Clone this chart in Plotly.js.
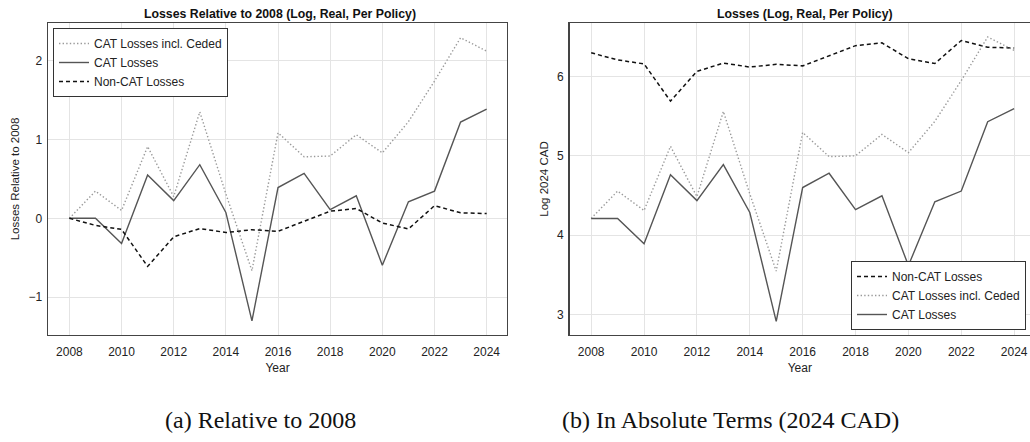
<!DOCTYPE html>
<html>
<head>
<meta charset="utf-8">
<script src="https://cdn.plot.ly/plotly-3.0.1.min.js"></script>
<style>html,body{margin:0;padding:0;background:#fff}#chart{width:1030px;height:442px}</style>
</head>
<body>
<div id="chart"></div>
<script>
const years = [2008,2009,2010,2011,2012,2013,2014,2015,2016,2017,2018,2019,2020,2021,2022,2023,2024];

// Panel (a): relative to 2008
const catRel    = [0, 0, -0.32, 0.55, 0.225, 0.68, 0.075, -1.30, 0.39, 0.57, 0.11, 0.285, -0.595, 0.21, 0.345, 1.22, 1.385];
const cededRel  = [0, 0.345, 0.10, 0.91, 0.275, 1.35, 0.31, -0.665, 1.085, 0.78, 0.79, 1.06, 0.83, 1.225, 1.74, 2.29, 2.12];
const nonCatRel = [0, -0.09, -0.14, -0.61, -0.235, -0.13, -0.18, -0.145, -0.165, -0.04, 0.09, 0.125, -0.06, -0.135, 0.16, 0.07, 0.06];

// Panel (b): absolute log 2024 CAD
const catAbs    = [4.21, 4.21, 3.89, 4.76, 4.435, 4.89, 4.285, 2.91, 4.60, 4.78, 4.32, 4.495, 3.615, 4.42, 4.555, 5.43, 5.595];
const cededAbs  = [4.21, 4.555, 4.31, 5.12, 4.485, 5.56, 4.52, 3.545, 5.295, 4.99, 5.00, 5.27, 5.04, 5.435, 5.95, 6.50, 6.33];
const nonCatAbs = [6.30, 6.21, 6.16, 5.69, 6.065, 6.17, 6.12, 6.155, 6.135, 6.26, 6.39, 6.425, 6.225, 6.165, 6.455, 6.37, 6.36];

const names = {cat: 'CAT Losses', ceded: 'CAT Losses incl. Ceded', noncat: 'Non-CAT Losses'};
const panelTitles = ['Losses Relative to 2008 (Log, Real, Per Policy)', 'Losses (Log, Real, Per Policy)'];
const captions = ['(a) Relative to 2008', '(b) In Absolute Terms (2024 CAD)'];

const FONT = 'Liberation Sans, Arial, Helvetica, sans-serif';
const SERIF = 'Liberation Serif, DejaVu Serif, serif';
const styles = {
  cat:    {color: '#555555', width: 1.4, dash: 'solid'},
  ceded:  {color: '#9a9a9a', width: 1.4, dash: '1.4px,2.2px'},
  noncat: {color: '#111111', width: 1.5, dash: '4px,3px'}
};

function tr(x, y, key, xa, ya, legend) {
  return {x: x, y: y, type: 'scatter', mode: 'lines', name: names[key],
          xaxis: xa, yaxis: ya, legend: legend, line: styles[key], hoverinfo: 'skip'};
}

const data = [
  tr(years, cededRel, 'ceded', 'x', 'y', 'legend'),
  tr(years, catRel, 'cat', 'x', 'y', 'legend'),
  tr(years, nonCatRel, 'noncat', 'x', 'y', 'legend'),
  tr(years, nonCatAbs, 'noncat', 'x2', 'y2', 'legend2'),
  tr(years, cededAbs, 'ceded', 'x2', 'y2', 'legend2'),
  tr(years, catAbs, 'cat', 'x2', 'y2', 'legend2')
];

const W = 1030, H = 442;
const yDom = [1 - 335/H, 1 - 23/H];
const gridc = '#e4e4e4';
const tickFont = {family: FONT, size: 12, color: '#222'};

function xax(domain, range, mirror) {
  return {domain: domain, range: range, tick0: 2008, dtick: 2, showgrid: true, gridcolor: gridc, gridwidth: 1,
          zeroline: false, showline: true, mirror: mirror, linecolor: '#444', linewidth: 1.3, ticks: '',
          tickfont: tickFont, ticklabelstandoff: 5,
          title: {text: 'Year', font: {family: FONT, size: 12, color: '#222'}, standoff: 6},
          automargin: false, fixedrange: true};
}
function yax(domain, range, dtick, anchor, mirror, title) {
  return {domain: domain, range: range, dtick: dtick, anchor: anchor, showgrid: true, gridcolor: gridc, gridwidth: 1,
          zeroline: false, showline: true, mirror: mirror, linecolor: '#444', linewidth: 1.3, ticks: '',
          tickfont: tickFont, ticklabelstandoff: 2,
          title: {text: title, font: {family: FONT, size: 11.5, color: '#222'}, standoff: 6},
          automargin: false, fixedrange: true};
}

const leftDom = [48/W, 507/W];
const rightDom = [569.5/W, 1];

const layout = {
  width: W, height: H,
  margin: {l: 0, r: 0, t: 0, b: 0, autoexpand: false},
  paper_bgcolor: '#fff', plot_bgcolor: '#fff',
  font: {family: FONT, color: '#222'},
  showlegend: true,
  xaxis: Object.assign(xax(leftDom, [2007.18, 2024.78], true), {anchor: 'y'}),
  yaxis: yax(yDom, [-1.48, 2.477], 1, 'x', true, 'Losses Relative to 2008'),
  xaxis2: Object.assign(xax(rightDom, [2007.18, 2024.6], true), {anchor: 'y2'}),
  yaxis2: yax(yDom, [2.739, 6.676], 1, 'x2', false, 'Log 2024 CAD'),
  legend: {x: 53/W, y: 1 - 28/H, xanchor: 'left', yanchor: 'top', bgcolor: '#fff', bordercolor: '#333', borderwidth: 1,
           font: {family: FONT, size: 12, color: '#222'}, tracegroupgap: 0},
  legend2: {x: 851/W, y: 1 - 330/H, xanchor: 'left', yanchor: 'bottom', bgcolor: '#fff', bordercolor: '#333', borderwidth: 1,
           font: {family: FONT, size: 12, color: '#222'}, tracegroupgap: 0},
  annotations: [
    {text: '<b>' + panelTitles[0] + '</b>', xref: 'paper', yref: 'paper', x: 280/W, y: 1 - 14/H, xanchor: 'center', yanchor: 'middle',
     showarrow: false, font: {family: FONT, size: 12.3, color: '#111'}},
    {text: '<b>' + panelTitles[1] + '</b>', xref: 'paper', yref: 'paper', x: 805/W, y: 1 - 14/H, xanchor: 'center', yanchor: 'middle',
     showarrow: false, font: {family: FONT, size: 12.3, color: '#111'}},
    {text: captions[0], xref: 'paper', yref: 'paper', x: 260/W, y: 1 - 420/H, xanchor: 'center', yanchor: 'middle',
     showarrow: false, font: {family: SERIF, size: 24, color: '#111'}},
    {text: captions[1], xref: 'paper', yref: 'paper', x: 730/W, y: 1 - 420/H, xanchor: 'center', yanchor: 'middle',
     showarrow: false, font: {family: SERIF, size: 24, color: '#111'}}
  ]
};

Plotly.newPlot('chart', data, layout, {displayModeBar: false, staticPlot: true});
</script>
</body>
</html>
